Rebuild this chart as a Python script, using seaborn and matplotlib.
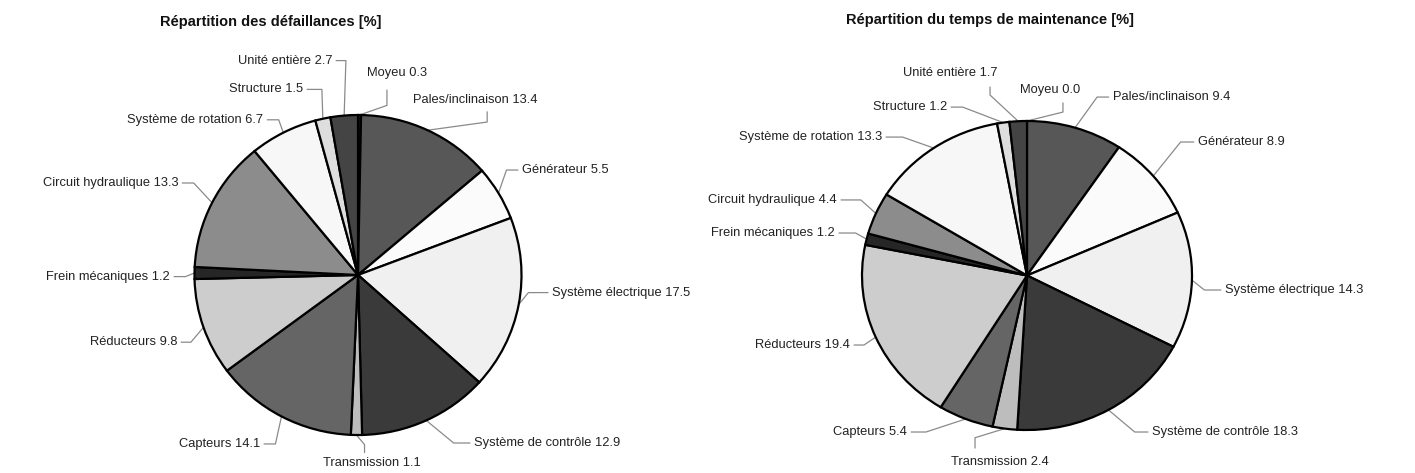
import numpy as np
import matplotlib
matplotlib.use("Agg")
import matplotlib.pyplot as plt
import seaborn as sns

sns.set_theme(style="white")
plt.rcParams['font.family'] = ['Liberation Sans', 'DejaVu Sans']

# ---------------- data ----------------
categories = ["Moyeu", "Pales/inclinaison", "Générateur", "Système électrique",
              "Système de contrôle", "Transmission", "Capteurs", "Réducteurs",
              "Frein mécaniques", "Circuit hydraulique", "Système de rotation",
              "Structure", "Unité entière"]
failures = [0.3, 13.4, 5.5, 17.5, 12.9, 1.1, 14.1, 9.8, 1.2, 13.3, 6.7, 1.5, 2.7]
maintenance = [0.0, 9.4, 8.9, 14.3, 18.3, 2.4, 5.4, 19.4, 1.2, 4.4, 13.3, 1.2, 1.7]
titles = ["Répartition des défaillances [%]", "Répartition du temps de maintenance [%]"]

# ---------------- style ----------------
colors = ["#1a1a1a", "#575757", "#fbfbfb", "#f0f0f0", "#3a3a3a", "#bdbdbd",
          "#656565", "#cdcdcd", "#262626", "#8c8c8c", "#f7f7f7", "#dedede", "#444444"]

# label layout (normalized to pie radius): x, y, ha, leader mode
# mode 'side': (elbow_dx) ; mode 'vert': (ux, uy1, uy2)
layout1 = [
    (0.055, 1.26, 'left', ('vert', 0.177, 1.06, 1.156)),
    (0.336, 1.094, 'left', ('vert', 0.79, 0.956, 1.02)),
    (1.003, 0.656, 'left', ('side', 0.07)),
    (1.187, -0.11, 'left', ('side', 0.12)),
    (0.71, -1.05, 'left', ('side', 0.10)),
    (0.085, -1.175, 'center', ('vert', 0.04, -1.06, -1.11)),
    (-0.60, -1.056, 'right', ('side', 0.07)),
    (-1.107, -0.42, 'right', ('side', 0.06)),
    (-1.15, -0.01, 'right', ('side', 0.07)),
    (-1.10, 0.575, 'right', ('side', 0.07)),
    (-0.58, 0.97, 'right', ('side', 0.07)),
    (-0.336, 1.16, 'right', ('side', 0.09)),
    (-0.159, 1.34, 'right', ('side', 0.06)),
]
layout2 = [
    (-0.042, 1.20, 'left', ('vert', 0.218, 1.058, 1.117)),
    (0.52, 1.155, 'left', ('side', 0.07)),
    (1.036, 0.864, 'left', ('side', 0.08)),
    (1.20, -0.094, 'left', ('side', 0.10)),
    (0.758, -1.013, 'left', ('side', 0.08)),
    (-0.164, -1.207, 'center', ('vert', -0.315, -1.05, -1.117)),
    (-0.727, -1.013, 'right', ('side', 0.09)),
    (-1.073, -0.45, 'right', ('side', 0.06)),
    (-1.164, 0.275, 'right', ('side', 0.10)),
    (-1.152, 0.489, 'right', ('side', 0.12)),
    (-0.879, 0.896, 'right', ('side', 0.10)),
    (-0.485, 1.09, 'right', ('side', 0.07)),
    (-0.18, 1.31, 'right', ('vert', -0.224, 1.168, 1.22)),
]

W, H = 1415, 473
fig = plt.figure(figsize=(W / 100, H / 100), dpi=100)

# pie boxes in pixels: (cx, cy, rx, ry)
boxes = [(358, 275, 163.5, 160), (1027, 275.5, 165, 154.5)]
title_pos = [(160, 22), (846, 20)]
datasets = [failures, maintenance]
layouts = [layout1, layout2]

fs = 9.3
line_col = "#8a8a8a"

for k in range(2):
    cx, cy, rx, ry = boxes[k]
    ax = fig.add_axes([(cx - rx) / W, (H - cy - ry) / H, 2 * rx / W, 2 * ry / H])
    vals = datasets[k]
    wedges, _ = ax.pie(vals, colors=colors, startangle=90, counterclock=False,
                       radius=1.0, center=(0, 0),
                       wedgeprops=dict(edgecolor="black", linewidth=1.6))
    ax.set_xlim(-1, 1)
    ax.set_ylim(-1, 1)
    ax.set_aspect('auto')
    ax.axis('off')

    total = sum(vals)
    cum = 0.0
    for i, (cat, v) in enumerate(zip(categories, vals)):
        mid = (cum + v / 2) / total
        cum += v
        ang = np.deg2rad(90 - 360 * mid)
        ex, ey = np.cos(ang), np.sin(ang)
        tx, ty, ha, lead = layouts[k][i]
        label = f"{cat} {v:.1f}"
        ax.text(tx, ty, label, ha=ha, va='center', fontsize=fs, color="#222222",
                clip_on=False)
        if lead[0] == 'side':
            d = lead[1]
            s = 1 if ha == 'right' else -1
            gap = 0.025
            px = [ex, tx + s * (gap + d), tx + s * gap]
            py = [ey, ty, ty]
        else:
            _, ux, uy1, uy2 = lead
            px = [ex, ux, ux]
            py = [ey, uy1, uy2]
        ax.plot(px, py, color=line_col, lw=0.9, clip_on=False, zorder=0)

    fig.text(title_pos[k][0] / W, 1 - title_pos[k][1] / H, titles[k], ha='left',
             va='center', fontsize=10.5, fontweight='bold', color="#111111")

fig.savefig("out.png", dpi=100, facecolor="white")
